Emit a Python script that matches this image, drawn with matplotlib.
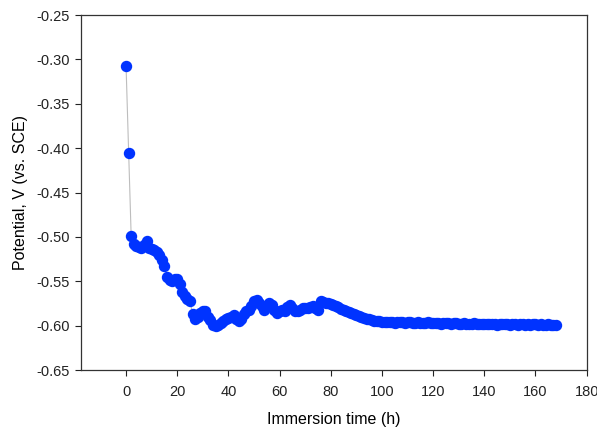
import matplotlib
matplotlib.use('Agg')
import matplotlib.pyplot as plt

# Open-circuit potential vs immersion time (hourly readings)
time_h = list(range(0, 169))
potential_v = [
    -0.307, -0.405, -0.499, -0.508, -0.510, -0.511, -0.512, -0.509, -0.505, -0.512,
    -0.514, -0.515, -0.517, -0.520, -0.526, -0.533, -0.545, -0.549, -0.550, -0.547,
    -0.547, -0.553, -0.562, -0.567, -0.570, -0.572, -0.587, -0.592, -0.590, -0.586,
    -0.583, -0.584, -0.590, -0.594, -0.599, -0.600, -0.599, -0.597, -0.595, -0.592,
    -0.591, -0.590, -0.588, -0.592, -0.595, -0.592, -0.587, -0.584, -0.582, -0.578,
    -0.572, -0.571, -0.574, -0.578, -0.582, -0.578, -0.575, -0.577, -0.582, -0.586,
    -0.584, -0.582, -0.583, -0.579, -0.577, -0.580, -0.584, -0.584, -0.582, -0.580,
    -0.580, -0.580, -0.579, -0.578, -0.580, -0.582, -0.572, -0.573, -0.574, -0.575,
    -0.576, -0.577, -0.578, -0.579, -0.581, -0.582, -0.584, -0.585, -0.586, -0.587,
    -0.588, -0.589, -0.590, -0.591, -0.592, -0.593, -0.594, -0.595, -0.595, -0.595,
    -0.596, -0.596, -0.596, -0.596, -0.596, -0.597, -0.596, -0.596, -0.596, -0.597,
    -0.596, -0.596, -0.597, -0.597, -0.596, -0.597, -0.597, -0.597, -0.596, -0.597,
    -0.597, -0.597, -0.597, -0.598, -0.597, -0.597, -0.597, -0.598, -0.597, -0.597,
    -0.598, -0.598, -0.597, -0.598, -0.598, -0.598, -0.597, -0.598, -0.598, -0.598,
    -0.598, -0.598, -0.598, -0.598, -0.598, -0.599, -0.598, -0.598, -0.598, -0.598,
    -0.599, -0.598, -0.598, -0.599, -0.598, -0.598, -0.599, -0.598, -0.599, -0.598,
    -0.598, -0.599, -0.598, -0.599, -0.599, -0.598, -0.599, -0.599, -0.599,
]

x_ticks = [0, 20, 40, 60, 80, 100, 120, 140, 160, 180]
y_ticks = [-0.65, -0.60, -0.55, -0.50, -0.45, -0.40, -0.35, -0.30, -0.25]

plt.rcParams['font.family'] = ['Liberation Sans', 'DejaVu Sans']

fig = plt.figure(figsize=(5.97, 4.32), dpi=100)
ax = fig.add_axes([0.1357, 0.1435, 0.847, 0.8215])

ax.plot(time_h, potential_v, color='#bdbdbd', linewidth=0.8, zorder=1)
ax.plot(time_h, potential_v, linestyle='none', marker='o', markersize=7.2,
        markerfacecolor='#0033ff', markeredgecolor='#0033ff', zorder=2)

ax.set_xlim(-17.6, 180)
ax.set_ylim(-0.65, -0.25)
ax.set_xticks(x_ticks)
ax.set_yticks(y_ticks)
ax.set_yticklabels([f'{v:.2f}' for v in y_ticks])

ax.tick_params(axis='both', direction='out', length=4, width=0.8, labelsize=10.5,
               colors='#222222')
ax.tick_params(axis='x', pad=7)
ax.tick_params(axis='y', pad=4)
ax.tick_params(top=False, right=False)
for s in ax.spines.values():
    s.set_linewidth(0.9)
    s.set_color('#333333')

ax.set_xlabel('Immersion time (h)', fontsize=11.5, labelpad=9)
ax.set_ylabel('Potential, V (vs. SCE)', fontsize=11.5, labelpad=6)

plt.savefig('out.png', dpi=100)
plt.close()
